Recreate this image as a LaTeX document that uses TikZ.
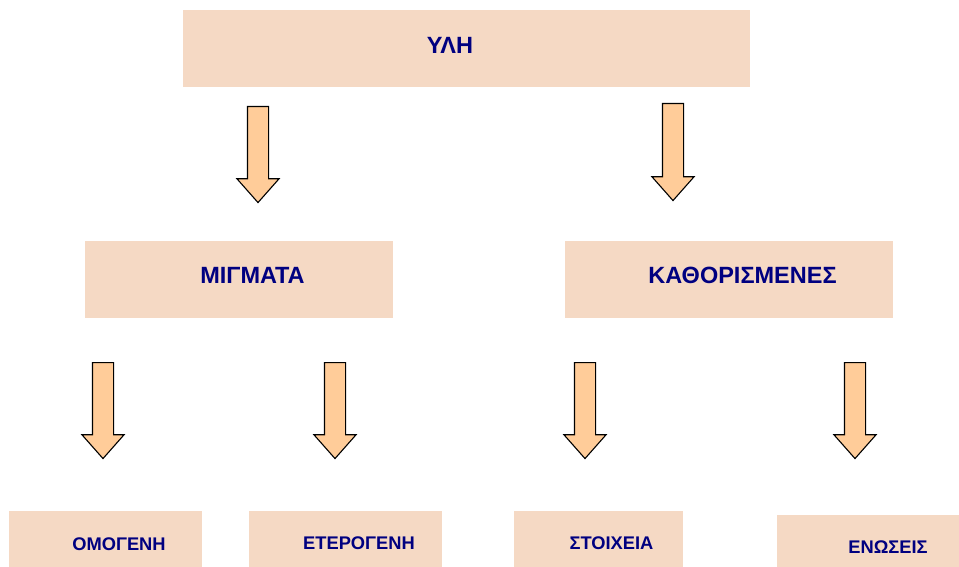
\documentclass[tikz,border=0pt]{standalone}
\usepackage{fontspec}
\setmainfont{Liberation Sans}
\usetikzlibrary{shapes.arrows}
\definecolor{fondboite}{HTML}{F5D9C4}
\definecolor{fondfleche}{HTML}{FFCC99}
\definecolor{bleutexte}{HTML}{000080}
\tikzset{
  boite/.style={fill=fondboite, minimum height=77pt, inner sep=0pt},
  petiteboite/.style={boite, minimum height=56pt},
  titre/.style={text=bleutexte, font=\bfseries\fontsize{23.5}{27}\selectfont},
  soustitre/.style={text=bleutexte, font=\bfseries\fontsize{18.3}{21}\selectfont},
  flechebas/.style={single arrow, draw=black, line width=1.1pt, fill=fondfleche,
    minimum height=96pt, inner xsep=0pt, inner ysep=10pt,
    single arrow head extend=10.5pt, single arrow tip angle=83,
    rotate=-90, anchor=tail},
}
\begin{document}
\begin{tikzpicture}[x=1pt,y=-1pt]
  \useasboundingbox (0,0) rectangle (959,567);

  % niveau 1
  \node[boite, minimum width=567pt,
    label={[titre, xshift=-16.5pt, yshift=3.5pt]center:ΥΛΗ}] (yli) at (466.5,48.5) {};

  % niveau 2
  \node[boite, minimum width=308pt,
    label={[titre, xshift=13.5pt, yshift=4pt]center:ΜΙΓΜΑΤΑ}] (migmata) at (239,279.5) {};
  \node[boite, minimum width=328pt,
    label={[titre, xshift=13.5pt, yshift=4.5pt]center:ΚΑΘΟΡΙΣΜΕΝΕΣ}] (kathor) at (729,279.5) {};

  % niveau 3
  \node[petiteboite, minimum width=193pt,
    label={[soustitre, xshift=13.5pt, yshift=-4.8pt]center:ΟΜΟΓΕΝΗ}] (omogeni) at (105.5,539) {};
  \node[petiteboite, minimum width=193pt,
    label={[soustitre, xshift=13.5pt, yshift=-4.5pt]center:ΕΤΕΡΟΓΕΝΗ}] (eterogeni) at (345.5,539) {};
  \node[petiteboite, minimum width=169pt,
    label={[soustitre, xshift=13pt, yshift=-4.5pt]center:ΣΤΟΙΧΕΙΑ}] (stoixeia) at (598.5,539) {};
  \node[petiteboite, minimum width=182pt, minimum height=52pt,
    label={[soustitre, xshift=20pt, yshift=-6pt]center:ΕΝΩΣΕΙΣ}] (enoseis) at (868,541) {};

  % fleches
  \node[flechebas] (f1) at (258,106) {};
  \node[flechebas, minimum height=97pt] (f2) at (673,103) {};
  \node[flechebas] (f3) at (103,362) {};
  \node[flechebas] (f4) at (335,362) {};
  \node[flechebas] (f5) at (585,362) {};
  \node[flechebas] (f6) at (855,362) {};
\end{tikzpicture}
\end{document}
